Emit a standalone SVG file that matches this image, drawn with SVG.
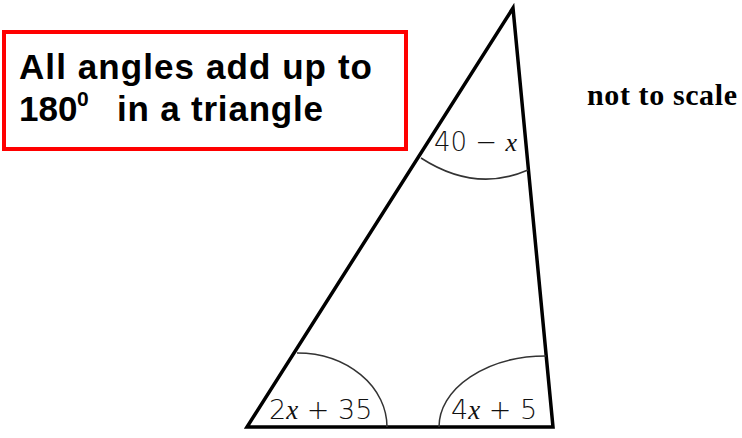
<svg xmlns="http://www.w3.org/2000/svg" width="742" height="438" viewBox="0 0 742 438">
<style>
.tri{fill:none;stroke:#000;stroke-width:3.5;stroke-linejoin:miter}
.arc{fill:none;stroke:#333;stroke-width:1.5}
.lbl{font-family:"DejaVu Sans","Liberation Sans",sans-serif;font-weight:200;font-size:27px;fill:#111}
.var{font-family:"Liberation Serif",serif;font-style:italic;font-weight:normal}
.title{font-family:"Liberation Sans",Arial,sans-serif;font-weight:bold;font-size:35px;fill:#000}
.note{font-family:"Liberation Serif","Times New Roman",serif;font-weight:bold;font-size:30px;fill:#000}
</style>
<rect width="742" height="438" fill="#fff"/>
<g id="title-box">
<rect x="4" y="32" width="402" height="117" fill="#fff" stroke="#f00" stroke-width="4"/>
<text class="title" x="19" y="79" textLength="353" lengthAdjust="spacing">All angles add up to</text>
<text class="title" x="19" y="121">180</text>
<text class="title" x="77" y="106" style="font-size:21px">0</text>
<text class="title" x="117" y="121" textLength="206" lengthAdjust="spacing">in a triangle</text>
</g>
<g id="note">
<text class="note" x="587" y="105" textLength="150" lengthAdjust="spacing">not to scale</text>
</g>
<g id="triangle">
<polygon class="tri" points="513,8 247,427 553,427"/>
</g>
<g id="angles">
<path class="arc" d="M421,158 Q475,193 528,170"/>
<path class="arc" d="M297,353 A90,74 0 0 1 387,427"/>
<path class="arc" d="M439,427 A107,71 0 0 1 546,356"/>
</g>
<g id="labels">
<text class="lbl" x="434" y="151" style="font-size:26px">40 − <tspan class="var">x</tspan></text>
<text class="lbl" x="269" y="419">2<tspan class="var">x</tspan> + 35</text>
<text class="lbl" x="451" y="419">4<tspan class="var">x</tspan> + 5</text>
</g>
</svg>
